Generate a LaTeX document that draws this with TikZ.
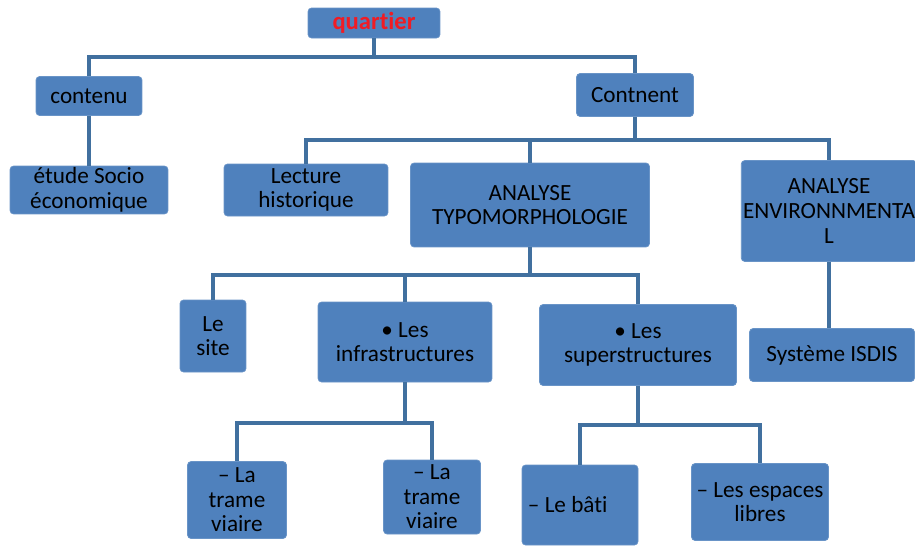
\documentclass[tikz,border=0pt]{standalone}
\usepackage{fontspec}
\setmainfont{Carlito}[Ligatures={NoCommon}]
\definecolor{boxblue}{HTML}{4F81BD}
\definecolor{lineblue}{HTML}{41709F}
\definecolor{titlered}{HTML}{F01C24}

\begin{document}
\begin{tikzpicture}[x=0.02cm, y=-0.02cm,
    box/.style={rectangle, rounded corners=2pt, fill=boxblue, draw=boxblue!85!white, align=center, inner sep=1pt, font=\fontsize{13.2}{14}\selectfont},
    link/.style={draw=lineblue, line width=1.9pt}]
    \useasboundingbox (0,0) rectangle (915,545);

                % top levels
                \node (quartier) [box, minimum width=2.64cm, minimum height=0.6cm, text=titlered, font=\fontsize{14}{15}\selectfont\bfseries] at (374,23) {quartier};
                \node (contenu) [box, minimum width=2.12cm, minimum height=0.78cm] at (89,96) {contenu};
                \node (contnent) [box, minimum width=2.34cm, minimum height=0.86cm] at (635,95) {Contnent};
                \node (etude) [box, minimum width=3.16cm, minimum height=0.9cm] at (89,190) {étude Socio\\économique};
                \node (lecture) [box, minimum width=3.28cm, minimum height=1.04cm] at (306,190) {Lecture\\historique};
                \node (typo) [box, minimum width=4.78cm, minimum height=1.68cm] at (530,205) {ANALYSE\\TYPOMORPHOLOGIE};
                \node (env) [box, minimum width=3.44cm, minimum height=2.02cm] at (829,211) {ANALYSE\\ENVIRONNMENTA\\L};

                % analyses
                \node (site) [box, minimum width=1.32cm, minimum height=1.44cm] at (213,336) {Le\\site};
                \node (infra) [box, minimum width=3.48cm, minimum height=1.6cm] at (405,342) {\textbullet{} Les\\infrastructures};
                \node (super) [box, minimum width=3.94cm, minimum height=1.62cm] at (638,345) {\textbullet{} Les\\superstructures};
                \node (isdis) [box, minimum width=3.3cm, minimum height=1.06cm] at (832,355) {Système ISDIS};

                % details
                \node (trameA) [box, minimum width=1.98cm, minimum height=1.54cm] at (237,500) {– La\\trame\\viaire};
                \node (trameB) [box, minimum width=1.94cm, minimum height=1.48cm] at (432,497) {– La\\trame\\viaire};
                \node (bati) [box, minimum width=2.32cm, minimum height=1.6cm] at (580,505) {– Le bâti\hspace{14pt}};
                \node (libres) [box, minimum width=2.74cm, minimum height=1.54cm] at (760,502) {– Les espaces\\libres};

                \coordinate (busQ) at (374,57);
                \coordinate (busC) at (635,140);
                \coordinate (busT) at (530,275);
                \coordinate (busI) at (405,423);
                \coordinate (busS) at (638,425);

			\draw[link] (quartier) -- (busQ);
			\draw[link] (busQ) -| (contenu);
			\draw[link] (busQ) -| (contnent);
			\draw[link] (contenu) -- (etude);
			\draw[link] (contnent) -- (busC);
			\draw[link] (busC) -| (lecture);
			\draw[link] (busC) -| (typo);
			\draw[link] (busC) -| (env);
			\draw[link] (typo) -- (busT);
			\draw[link] (busT) -| (site);
			\draw[link] (busT) -| (infra);
			\draw[link] (busT) -| (super);
			\draw[link] (env.south) -- (env.south |- isdis.north);
			\draw[link] (infra) -- (busI);
			\draw[link] (busI) -| (trameA);
			\draw[link] (busI) -| (trameB);
			\draw[link] (super) -- (busS);
			\draw[link] (busS) -| (bati);
			\draw[link] (busS) -| (libres);
	\end{tikzpicture}
\end{document}
